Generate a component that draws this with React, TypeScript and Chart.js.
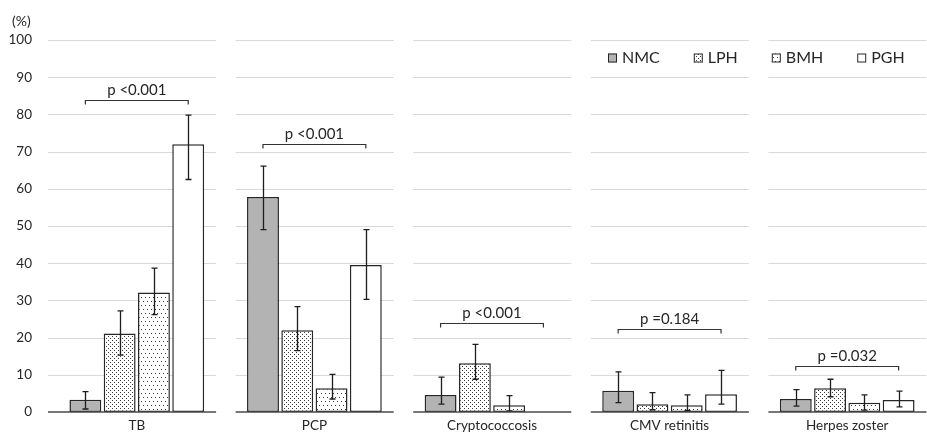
import React, { useEffect, useRef } from 'react';
import { Chart, registerables } from 'chart.js';

Chart.register(...registerables);

const categories = ['TB', 'PCP', 'Cryptococcosis', 'CMV retinitis', 'Herpes zoster'];
const seriesNames = ['NMC', 'LPH', 'BMH', 'PGH'];
const nmc = [3.3, 57.8, 4.6, 5.7, 3.5];
const lph = [21.1, 22.0, 13.1, 2.1, 6.4];
const bmh = [32.1, 6.4, 1.8, 1.8, 2.5];
const pgh = [72.0, 39.5, 0, 4.8, 3.2];
const nmcLow = [0.8, 49.0, 2.1, 2.5, 1.6];
const nmcHigh = [5.5, 66.1, 9.4, 10.8, 6.0];
const lphLow = [15.3, 16.5, 8.8, 0.6, 4.1];
const lphHigh = [27.2, 28.3, 18.2, 5.2, 8.8];
const bmhLow = [26.2, 3.5, 0.3, 0.4, 0.5];
const bmhHigh = [38.7, 10.1, 4.4, 4.6, 4.6];
const pghLow: (number | null)[] = [62.5, 30.3, null, 2.1, 1.4];
const pghHigh: (number | null)[] = [79.8, 49.0, null, 11.2, 5.6];
const pLabels = ['p <0.001', 'p <0.001', 'p <0.001', 'p =0.184', 'p =0.032'];
const pLevels = [84, 72, 24, 22.2, 12.4];
const yTicks = [0, 10, 20, 30, 40, 50, 60, 70, 80, 90, 100];
const yUnit = '(%)';

const FONT = 'Lato, "Noto Sans", sans-serif';
const TEXT = '#262626';
const EDGE = '#262626';

function makePattern(kind: string): CanvasPattern | string {
  if (kind === 'gray') return '#b3b3b3';
  if (kind === 'white') return '#ffffff';
  const c = document.createElement('canvas');
  const size = kind === 'dense' ? 4 : 8;
  c.width = size;
  c.height = size;
  const g = c.getContext('2d')!;
  g.fillStyle = '#ffffff';
  g.fillRect(0, 0, size, size);
  g.fillStyle = '#3c3c3c';
  if (kind === 'dense') {
    g.fillRect(0, 0, 1, 1);
    g.fillRect(2, 2, 1, 1);
  } else {
    g.fillRect(1, 1, 1, 1);
    g.fillRect(5, 1, 1, 1);
    g.fillRect(3, 5, 1, 1);
    g.fillRect(7, 5, 1, 1);
  }
  const p = g.createPattern(c, 'repeat');
  return p || '#ffffff';
}

const panelsPlugin = {
  id: 'panels',
  beforeDatasetsDraw(chart: any) {
    const { ctx, chartArea } = chart;
    const y = chart.scales.y;
    const n = categories.length;
    const W = (chartArea.right - chartArea.left) / n;
    ctx.save();
    ctx.strokeStyle = '#d9d9d9';
    ctx.lineWidth = 1;
    for (let i = 0; i < n; i++) {
      const l = i === 0 ? chartArea.left : chartArea.left + i * W + 10;
      const r = chartArea.left + (i + 1) * W - 9.5;
      for (const t of yTicks) {
        if (t === 0) continue;
        const py = Math.round(y.getPixelForValue(t)) + 0.5;
        ctx.beginPath();
        ctx.moveTo(l, py);
        ctx.lineTo(r, py);
        ctx.stroke();
      }
    }
    ctx.restore();
  },
  afterDatasetsDraw(chart: any) {
    const { ctx, chartArea } = chart;
    const y = chart.scales.y;
    const n = categories.length;
    const W = (chartArea.right - chartArea.left) / n;
    const lows = [nmcLow, lphLow, bmhLow, pghLow];
    const highs = [nmcHigh, lphHigh, bmhHigh, pghHigh];
    ctx.save();
    // error bars
    ctx.strokeStyle = '#1e1e1e';
    ctx.lineWidth = 1.3;
    for (let d = 0; d < 4; d++) {
      const meta = chart.getDatasetMeta(d);
      meta.data.forEach((el: any, j: number) => {
        const lo = lows[d][j];
        const hi = highs[d][j];
        if (lo == null || hi == null) return;
        const x = Math.round(el.x) + 0.5;
        const y1 = y.getPixelForValue(lo);
        const y2 = y.getPixelForValue(hi);
        ctx.beginPath();
        ctx.moveTo(x, y1);
        ctx.lineTo(x, y2);
        ctx.moveTo(x - 3, y1);
        ctx.lineTo(x + 3, y1);
        ctx.moveTo(x - 3, y2);
        ctx.lineTo(x + 3, y2);
        ctx.stroke();
      });
    }
    // baselines
    ctx.strokeStyle = '#4a4a4a';
    ctx.lineWidth = 1.3;
    const by = y.getPixelForValue(0);
    for (let i = 0; i < n; i++) {
      const l = i === 0 ? chartArea.left : chartArea.left + i * W + 10;
      const r = chartArea.left + (i + 1) * W - 9.5;
      ctx.beginPath();
      ctx.moveTo(l, by);
      ctx.lineTo(r, by);
      ctx.stroke();
    }
    // p-value brackets
    const m0 = chart.getDatasetMeta(0);
    const m3 = chart.getDatasetMeta(3);
    ctx.strokeStyle = '#333333';
    ctx.lineWidth = 1.2;
    ctx.fillStyle = TEXT;
    ctx.font = `15px ${FONT}`;
    ctx.textAlign = 'center';
    ctx.textBaseline = 'middle';
    for (let i = 0; i < n; i++) {
      const x1 = m0.data[i].x;
      const x2 = m3.data[i].x;
      const py = Math.round(y.getPixelForValue(pLevels[i])) + 0.5;
      ctx.beginPath();
      ctx.moveTo(x1, py + 4);
      ctx.lineTo(x1, py);
      ctx.lineTo(x2, py);
      ctx.lineTo(x2, py + 4);
      ctx.stroke();
      ctx.fillText(pLabels[i], (x1 + x2) / 2, py - 10);
    }
    ctx.restore();
  },
  afterDraw(chart: any) {
    const { ctx } = chart;
    ctx.save();
    ctx.fillStyle = TEXT;
    ctx.font = `14px ${FONT}`;
    ctx.textAlign = 'left';
    ctx.textBaseline = 'middle';
    ctx.fillText(yUnit, 12, 21);
    // legend
    ctx.font = `16px ${FONT}`;
    let x = 608;
    const ly = 58;
    chart.data.datasets.forEach((ds: any) => {
      ctx.fillStyle = ds.backgroundColor;
      ctx.fillRect(x, ly - 4.5, 9, 9);
      ctx.strokeStyle = EDGE;
      ctx.lineWidth = 1;
      ctx.strokeRect(x + 0.5, ly - 4, 8, 8);
      ctx.fillStyle = TEXT;
      ctx.fillText(ds.label, x + 14, ly);
      x += 14 + ctx.measureText(ds.label).width + 34;
    });
    ctx.restore();
  },
};

export default function App() {
  const ref = useRef<HTMLCanvasElement>(null);
  useEffect(() => {
    if (!ref.current) return;
    Chart.defaults.font.family = FONT;
    const fills = [makePattern('gray'), makePattern('dense'), makePattern('sparse'), makePattern('white')];
    const values = [nmc, lph, bmh, pgh];
    const chart = new Chart(ref.current, {
      type: 'bar',
      data: {
        labels: categories,
        datasets: seriesNames.map((name, i) => ({
          label: name,
          data: values[i],
          backgroundColor: fills[i] as any,
          borderColor: EDGE,
          borderWidth: 1.5,
          borderSkipped: false,
          categoryPercentage: 0.772,
          barPercentage: 0.93,
        })),
      },
      options: {
        responsive: false,
        animation: false,
        layout: { padding: { top: 40, left: 0, right: 0, bottom: 0 } },
        plugins: { legend: { display: false }, tooltip: { enabled: false } },
        scales: {
          x: {
            grid: { display: false, drawTicks: false },
            border: { display: false },
            ticks: { color: TEXT, font: { size: 13.5, family: FONT }, padding: 6, maxRotation: 0 },
            afterFit: (s: any) => { s.height = 28; },
          },
          y: {
            min: 0,
            max: 100,
            afterBuildTicks: (s: any) => { s.ticks = yTicks.map((v) => ({ value: v })); },
            grid: { display: false, drawTicks: false },
            border: { display: false },
            ticks: { color: TEXT, font: { size: 13.5, family: FONT }, padding: 16 },
            afterFit: (s: any) => { s.width = 48; },
          },
        },
      },
      plugins: [panelsPlugin],
    });
    return () => chart.destroy();
  }, []);
  return (
    <div style={{ position: 'fixed', left: 0, top: 0, width: 927, height: 440, overflow: 'hidden', background: '#fff' }}>
      <canvas ref={ref} width={936} height={440} style={{ display: 'block', width: 936, height: 440 }} />
    </div>
  );
}
